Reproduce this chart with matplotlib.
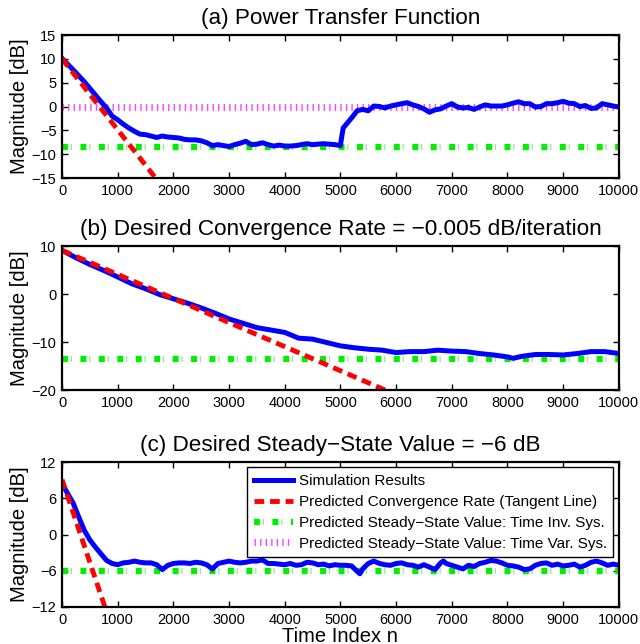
import numpy as np
import matplotlib
matplotlib.use("Agg")
from matplotlib import pyplot as plt
from matplotlib.lines import Line2D
from matplotlib.legend_handler import HandlerTuple

plt.rcParams['font.family'] = ['Liberation Sans', 'DejaVu Sans']

# ---- data ----
# (a) power transfer function
n_a = [0, 200, 400, 600, 700, 800, 900, 1000, 1100, 1200, 1300, 1400, 1500, 1600,
       1700, 1800, 1900, 2000, 2100, 2200, 2300, 2400, 2500, 2600, 2700, 2800,
       2900, 3000, 3100, 3200, 3300, 3400, 3500, 3600, 3700, 3800, 3900, 4000,
       4100, 4200, 4300, 4400, 4500, 4600, 4700, 4800, 4900, 5000, 5020, 5050,
       5100, 5200, 5300, 5400, 5500, 5600, 5700, 5800, 5900, 6000, 6100, 6200,
       6300, 6400, 6500, 6600, 6700, 6800, 6900, 7000, 7100, 7200, 7300, 7400,
       7500, 7600, 7700, 7800, 7900, 8000, 8100, 8200, 8300, 8400, 8500, 8600,
       8700, 8800, 8900, 9000, 9100, 9200, 9300, 9400, 9500, 9600, 9700, 9800,
       9900, 10000]
mag_a = [10.1, 7.7, 5.2, 2.4, 1.0, -0.3, -2.0, -2.8, -3.7, -4.5, -5.2, -5.8, -5.9, -6.2,
         -6.5, -6.2, -6.4, -6.5, -6.6, -6.9, -7.0, -7.0, -7.2, -7.6, -8.2, -8.0,
         -8.2, -8.4, -8.0, -7.7, -7.3, -8.0, -7.9, -7.6, -8.0, -8.3, -8.1, -8.3,
         -8.3, -8.2, -8.0, -7.8, -8.0, -7.9, -7.8, -7.9, -8.0, -8.2, -6.6, -4.5,
         -3.8, -2.4, -0.9, -0.6, -0.9, 0.1, 0.0, -0.3, 0.1, 0.35, 0.6, 0.8,
         0.35, 0.0, -0.5, -1.2, -0.7, -0.5, 0.1, 0.6, -0.1, -0.3, -0.2, -0.6,
         -0.1, 0.35, 0.1, 0.1, 0.1, 0.35, 0.7, 1.0, 0.6, 0.6, -0.1, 0.0,
         0.6, 0.6, 0.8, 1.1, 0.7, 0.6, 0.0, 0.2, -0.4, -0.3, 0.6, 0.35,
         0.1, -0.1]

# (b) desired convergence rate
n_b = [0, 250, 500, 750, 1000, 1250, 1500, 1750, 2000, 2250, 2500, 2750, 3000,
       3250, 3500, 3750, 4000, 4250, 4500, 4750, 5000, 5250, 5500, 5750, 6000,
       6250, 6500, 6750, 7000, 7250, 7500, 7750, 8000, 8100, 8250, 8500, 8750,
       9000, 9250, 9500, 9750, 10000]
mag_b = [9.1, 7.55, 6.15, 4.9, 3.55, 2.15, 1.1, -0.1, -1.0, -1.9, -2.9, -4.0, -5.2,
         -6.1, -7.0, -7.5, -8.0, -9.2, -9.4, -10.1, -10.8, -11.2, -11.5, -11.7, -12.2,
         -12.0, -12.0, -11.7, -11.9, -12.0, -12.4, -12.7, -13.1, -13.4, -13.0, -12.6, -12.6,
         -12.7, -12.4, -12.0, -12.0, -12.4]

# (c) desired steady-state value
n_c = [0, 100, 200, 300, 400, 500, 600, 700, 800, 900, 1000, 1100, 1200, 1300,
       1400, 1500, 1600, 1700, 1800, 1900, 2000, 2100, 2200, 2300, 2400, 2500,
       2600, 2700, 2800, 2900, 3000, 3100, 3200, 3300, 3400, 3500, 3600, 3700,
       3800, 3900, 4000, 4100, 4200, 4300, 4400, 4500, 4600, 4700, 4800, 4900,
       5000, 5100, 5200, 5300, 5350, 5400, 5500, 5600, 5700, 5800, 5900, 6000,
       6100, 6200, 6300, 6400, 6500, 6600, 6700, 6800, 6850, 6900, 7000, 7100,
       7200, 7300, 7400, 7500, 7600, 7700, 7800, 7900, 8000, 8100, 8200, 8300,
       8400, 8500, 8600, 8700, 8800, 8900, 9000, 9100, 9200, 9300, 9400, 9500,
       9600, 9700, 9800, 9900, 10000]
mag_c = [8.5, 6.8, 5.2, 2.9, 0.7, -0.9, -2.1, -3.2, -4.3, -4.8, -5.0, -4.7, -4.6, -4.4,
         -4.6, -4.7, -4.7, -5.0, -5.8, -5.1, -4.8, -4.7, -4.7, -4.8, -4.6, -4.7,
         -5.0, -5.7, -4.8, -4.6, -4.4, -4.6, -4.7, -4.6, -4.4, -4.4, -4.2, -4.8,
         -4.8, -4.9, -5.0, -4.8, -5.1, -5.0, -4.6, -4.7, -5.0, -4.9, -5.2, -5.0,
         -5.1, -5.1, -5.2, -6.1, -6.5, -5.7, -4.8, -4.4, -4.8, -5.0, -5.1, -4.8,
         -4.7, -5.0, -5.1, -5.4, -5.0, -5.4, -5.8, -4.7, -4.4, -4.8, -5.1, -5.4,
         -5.7, -5.1, -5.3, -4.8, -4.6, -4.3, -4.4, -4.7, -5.1, -5.2, -5.4, -5.8,
         -5.7, -5.1, -4.8, -4.7, -5.1, -4.9, -5.2, -5.1, -4.9, -5.4, -5.1, -4.6,
         -4.4, -4.7, -5.1, -4.9, -5.1]

# tangent lines (start / end points)
tan_n = [[0, 1680], [0, 5800], [0, 770]]
tan_db = [[10.0, -15.0], [9.1, -20.0], [9.1, -12.0]]

# predicted steady-state values
ss_inv = [-8.5, -13.6, -6.0]
ss_var_a = 0.0

titles = ["(a) Power Transfer Function",
          "(b) Desired Convergence Rate = \u22120.005 dB/iteration",
          "(c) Desired Steady\u2212State Value = \u22126 dB"]
ylims = [(-15, 15), (-20, 10), (-12, 12)]
yticks = [np.arange(-15, 16, 5), np.arange(-20, 11, 10), np.arange(-12, 13, 6)]

legend_labels = ["Simulation Results",
                 "Predicted Convergence Rate (Tangent Line)",
                 "Predicted Steady\u2212State Value: Time Inv. Sys.",
                 "Predicted Steady\u2212State Value: Time Var. Sys."]

# ---- styles ----
blue_kw = dict(color='#0000ff', lw=3.6, solid_joinstyle='round')
red_kw = dict(color='#ff0000', lw=3.5, linestyle=(0, (2.0, 1.2)))
green_sq_kw = dict(color='#00ee00', lw=4.5, linestyle=(0, (0.95, 2.0)))
green_thin_kw = dict(color='#90f090', lw=4.5, linestyle=(1.55, (0.2, 2.75)))
mag_kw = dict(color='#ff40ff', lw=5.0, linestyle=(0, (0.2, 0.6)))

fig = plt.figure(figsize=(6.4, 6.44), dpi=100)
bottoms = [0.7236, 0.3944, 0.0575]
heights = [0.222, 0.2236, 0.225]

series = [(n_a, mag_a), (n_b, mag_b), (n_c, mag_c)]

for i in range(3):
    ax = fig.add_axes([0.0969, bottoms[i], 0.870, heights[i]])
    n, m = series[i]

    if i == 0:
        ax.plot([0, 10000], [ss_var_a, ss_var_a], **mag_kw)
    g_thin, = ax.plot([0, 10000], [ss_inv[i], ss_inv[i]], **green_thin_kw)
    g_sq, = ax.plot([0, 10000], [ss_inv[i], ss_inv[i]], **green_sq_kw)
    b_line, = ax.plot(n, m, **blue_kw)
    r_line, = ax.plot(tan_n[i], tan_db[i], **red_kw)

    ax.set_xlim(0, 10000)
    ax.set_ylim(*ylims[i])
    ax.set_xticks(np.arange(0, 10001, 1000))
    ax.set_yticks(yticks[i])
    ax.tick_params(direction='in', top=True, right=True, length=4, width=1,
                   labelsize=10.5, pad=4)
    for s in ax.spines.values():
        s.set_linewidth(1.6)
    ax.set_title(titles[i], fontsize=16.2, pad=8)
    ax.set_ylabel("Magnitude [dB]", fontsize=14.5, labelpad=2)

    if i == 2:
        ax.set_xlabel("Time Index n", fontsize=14.5, labelpad=0)
        mag_proxy = Line2D([], [], **mag_kw)
        leg = ax.legend([b_line, r_line, (g_thin, g_sq), mag_proxy], legend_labels,
                        handler_map={tuple: HandlerTuple(ndivide=1)},
                        loc='upper right', fontsize=11, fancybox=False,
                        edgecolor='black', framealpha=1, handlelength=2.55,
                        handletextpad=0.4, labelspacing=0.45, borderpad=0.44,
                        borderaxespad=0.35)
        leg.get_frame().set_linewidth(1.0)

fig.savefig("out.png", dpi=100)
